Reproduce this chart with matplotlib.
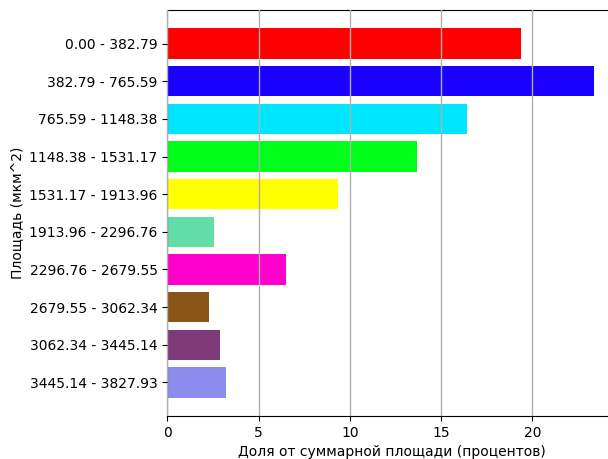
import matplotlib
matplotlib.use("Agg")
import matplotlib.pyplot as plt

categories = ["0.00 - 382.79", "382.79 - 765.59", "765.59 - 1148.38",
              "1148.38 - 1531.17", "1531.17 - 1913.96", "1913.96 - 2296.76",
              "2296.76 - 2679.55", "2679.55 - 3062.34", "3062.34 - 3445.14",
              "3445.14 - 3827.93"]
values = [19.36, 23.40, 16.40, 13.70, 9.34, 2.58, 6.50, 2.30, 2.90, 3.22]
colors = ["#ff0000", "#1a00ff", "#00e6ff", "#00ff1a", "#ffff00",
          "#64dea8", "#ff00cc", "#8a5618", "#7f3b79", "#8c8cec"]

fig = plt.figure(figsize=(6.08, 4.59), dpi=100)
ax = fig.add_axes([167.3 / 608, 43 / 459, (615.7 - 167.3) / 608, 406 / 459])
ax.barh(categories, values, color=colors, zorder=3)
ax.invert_yaxis()
ax.set_xlim(0, 24.57)
ax.grid(axis="x", color="#b0b0b0", linewidth=1, zorder=0)
ax.set_axisbelow(False)
for b in ax.patches:
    b.set_zorder(1)
ax.xaxis.grid(True, zorder=2)
ax.set_xlabel("Доля от суммарной площади (процентов)")
ax.set_ylabel("Площадь (мкм^2)")
fig.savefig("out.png", dpi=100)
